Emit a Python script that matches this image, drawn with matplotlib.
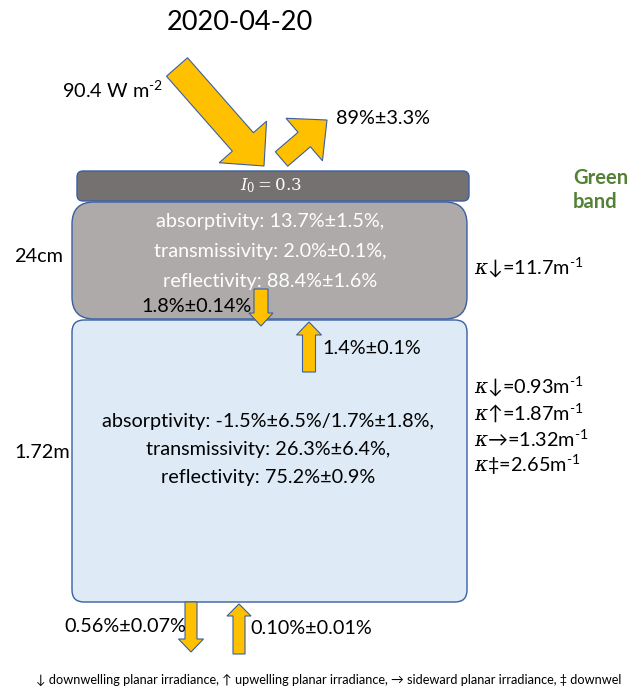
import matplotlib.pyplot as plt
from matplotlib.patches import FancyBboxPatch, FancyArrow

plt.rcParams['font.family'] = ['Lato', 'DejaVu Sans']
plt.rcParams['mathtext.fontset'] = 'custom'
plt.rcParams['mathtext.rm'] = 'Lato'
plt.rcParams['mathtext.it'] = 'DejaVu Serif:italic'

# ---- data ----
date = "2020-04-20"
band = "Green\nband"
incoming = "90.4"                      # W m-2
surface_refl = "89%±3.3%"
top_layer = "0.3"                      # I0
ice_thick = "24cm"
water_thick = "1.72m"
ice_props = ["absorptivity: 13.7%±1.5%,",
             "transmissivity: 2.0%±0.1%,",
             "reflectivity: 88.4%±1.6%"]
water_props = ["absorptivity: -1.5%±6.5%/1.7%±1.8%,",
               "transmissivity: 26.3%±6.4%,",
               "reflectivity: 75.2%±0.9%"]
ice_kappa = [("↓", "11.7")]
water_kappa = [("↓", "0.93"), ("↑", "1.87"), ("→", "1.32"), ("‡", "2.65")]
ice_to_water = "1.8%±0.14%"
water_to_ice = "1.4%±0.1%"
bottom_down = "0.56%±0.07%"
bottom_up = "0.10%±0.01%"
footer = ("↓ downwelling planar irradiance, ↑ upwelling planar irradiance, "
          "→ sideward planar irradiance, ‡ downwel")

yellow = '#FFC000'
edge = '#3A5FA0'

fig = plt.figure(figsize=(6.3, 6.89), dpi=100)
ax = fig.add_axes([0, 0, 1, 1])
ax.set_xlim(0, 630)
ax.set_ylim(689, 0)
ax.axis('off')

fs = 14.3
sup = r"$^{\text{-%s}}$"

# title
ax.text(240, 23, date, fontsize=19.5, ha='center', va='center')

# layers
def box(x0, y0, x1, y1, r, fc):
    ax.add_patch(FancyBboxPatch((x0, y0), x1 - x0, y1 - y0,
                                boxstyle=f"round,pad=0,rounding_size={r}",
                                fc=fc, ec=edge, lw=1.0))

box(77, 171, 469, 201, 6, '#767171')
box(72, 202, 467, 319, 22, '#AEAAAA')
box(72, 320, 467, 602, 12, '#DEEBF7')

ax.text(271, 186, r"$I_0 = %s$" % top_layer, color='white', fontsize=12,
        ha='center', va='center', math_fontfamily='dejavuserif')

for i, s in enumerate(ice_props):
    ax.text(270, 222 + 29.5 * i, s, color='white', fontsize=fs,
            ha='center', va='center')
for i, s in enumerate(water_props):
    ax.text(268, 421 + 28 * i, s, color='black', fontsize=fs,
            ha='center', va='center')

ax.text(14, 256, ice_thick, fontsize=fs, va='center')
ax.text(14, 453, water_thick, fontsize=fs, va='center')

ax.text(573, 190, band, fontsize=14.5, color='#548235', fontweight='bold',
        va='center', linespacing=1.25)

for sym, v in ice_kappa:
    ax.text(474, 268, r"$\kappa$%s=%sm" % (sym, v) + sup % "1",
            fontsize=fs, va='center')
for i, (sym, v) in enumerate(water_kappa):
    ax.text(474, 387 + 26 * i, r"$\kappa$%s=%sm" % (sym, v) + sup % "1",
            fontsize=fs, va='center')

# arrows
def arrow(x0, y0, x1, y1, w, hw, hl):
    ax.add_patch(FancyArrow(x0, y0, x1 - x0, y1 - y0, width=w, head_width=hw,
                            head_length=hl, length_includes_head=True,
                            fc=yellow, ec=edge, lw=0.8))

arrow(177, 67, 264, 166, 28, 63, 32)
arrow(281.5, 159, 327, 120, 19, 56, 30)
arrow(261, 289, 261, 326, 14, 24, 13)
arrow(309, 372, 309, 322, 13, 25, 13)
arrow(191, 602, 191, 652, 12, 25, 13)
arrow(239, 654, 239, 604, 12, 24, 12)

ax.text(62, 90, "%s W m" % incoming + sup % "2", fontsize=fs, va='center')
ax.text(336, 119, surface_refl, fontsize=fs, va='center')
ax.text(252, 307, ice_to_water, fontsize=fs, va='center', ha='right')
ax.text(322, 349, water_to_ice, fontsize=fs, va='center')
ax.text(186, 626, bottom_down, fontsize=fs, va='center', ha='right')
ax.text(250, 629, bottom_up, fontsize=fs, va='center')

# the reference's footnote runs past the right edge; keep it the same
ax.text(36, 680, footer, fontsize=9.15, va='center', clip_on=True)

fig.savefig('out.png', dpi=100)
